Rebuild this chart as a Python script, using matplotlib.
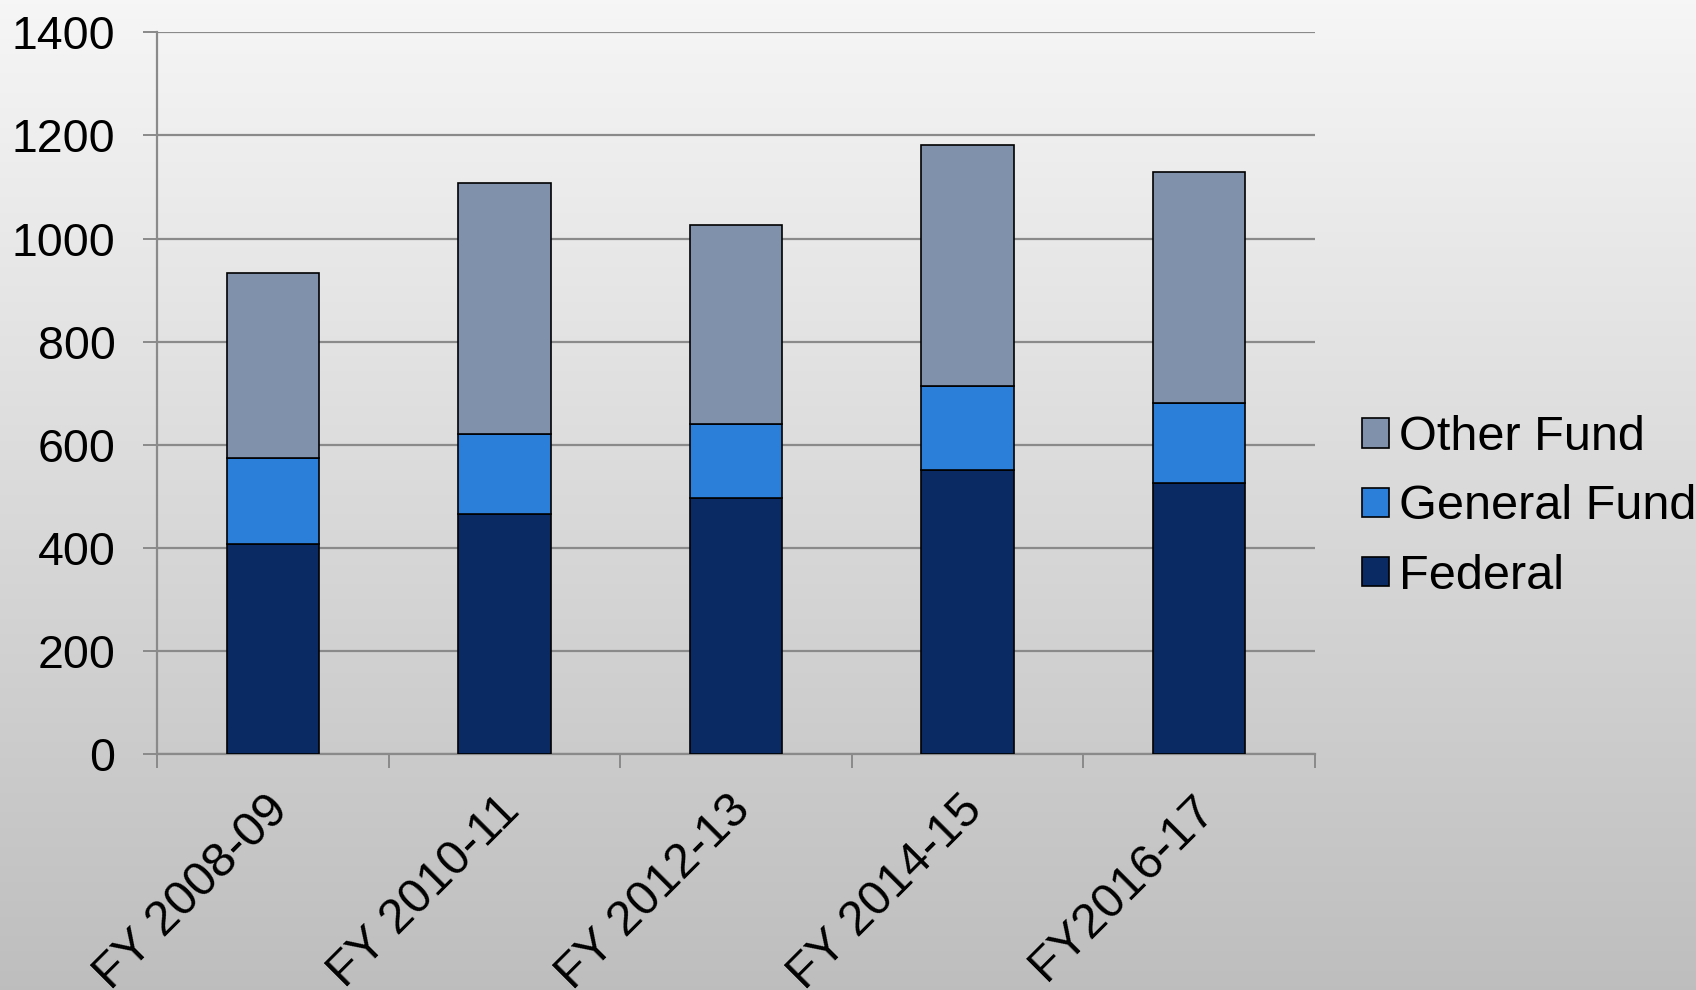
import matplotlib
matplotlib.use("Agg")
import matplotlib.pyplot as plt
import matplotlib.transforms as mtransforms
import numpy as np

categories = ["FY 2008-09", "FY 2010-11", "FY 2012-13", "FY 2014-15", "FY2016-17"]
federal = [408, 465, 497, 551, 526]
general_fund = [166, 155, 143, 163, 155]
other_fund = [359, 488, 387, 468, 448]
y_ticks = [0, 200, 400, 600, 800, 1000, 1200, 1400]

plt.rcParams['font.family'] = ['Liberation Sans', 'DejaVu Sans']

fig = plt.figure(figsize=(16.96, 9.9), dpi=100)

# gradient background
bg = fig.add_axes([0, 0, 1, 1], zorder=-10)
grad = np.linspace(0, 1, 256).reshape(-1, 1)
top_c = np.array([0.965, 0.965, 0.965])
bot_c = np.array([0.745, 0.745, 0.745])
img = top_c[None, None, :] * (1 - grad[:, :, None]) + bot_c[None, None, :] * grad[:, :, None]
bg.imshow(img, aspect='auto', extent=[0, 1, 0, 1], origin='upper')
bg.axis('off')

ax = fig.add_axes([0.0926, 0.2384, 0.6827, 0.7289])
ax.patch.set_alpha(0)

x = np.arange(len(categories))
w = 0.4
c_fed = '#092A62'
c_gen = '#2B7FD8'
c_oth = '#8091AB'
fed = np.array(federal)
gen = np.array(general_fund)
oth = np.array(other_fund)
b1 = ax.bar(x, fed, w, color=c_fed, edgecolor='black', linewidth=1.2, label='Federal', zorder=3)
b2 = ax.bar(x, gen, w, bottom=fed, color=c_gen, edgecolor='black', linewidth=1.2, label='General Fund', zorder=3)
b3 = ax.bar(x, oth, w, bottom=fed + gen, color=c_oth, edgecolor='black', linewidth=1.2, label='Other Fund', zorder=3)

ax.set_xlim(-0.5, len(categories) - 0.5)
ax.set_ylim(0, 1400)
ax.set_yticks(y_ticks)
ax.set_yticklabels([str(v) for v in y_ticks], fontsize=33.5)
ax.yaxis.grid(True, color='#8a8a8a', linewidth=1.6, zorder=0)
ax.set_axisbelow(True)

ax.set_xticks(np.arange(-0.5, len(categories), 1.0))
ax.set_xticklabels([])
ax.set_xticks(x, minor=True)
ax.set_xticklabels(categories, minor=True, rotation=45, ha='right', rotation_mode='anchor', fontsize=35)
ax.tick_params(axis='x', which='minor', length=0, pad=24)
ax.tick_params(axis='x', which='major', length=10, width=1.4, color='#8a8a8a', direction='out')
ax.tick_params(axis='y', length=10, width=1.4, color='#8a8a8a', direction='out', pad=20)

offset = mtransforms.ScaledTranslation(-8 / 100, 0, fig.dpi_scale_trans)
for lbl in ax.get_xticklabels(minor=True):
    lbl.set_transform(lbl.get_transform() + offset)

for s in ['top', 'right']:
    ax.spines[s].set_visible(False)
for s in ['left', 'bottom']:
    ax.spines[s].set_color('#8a8a8a')
    ax.spines[s].set_linewidth(1.6)

handles = [b3, b2, b1]
labels = ['Other Fund', 'General Fund', 'Federal']
fig.legend(handles, labels, loc='center left', bbox_to_anchor=(0.803, 0.488),
           frameon=False, fontsize=35, handlelength=0.55, handleheight=0.55,
           handletextpad=0.22, labelspacing=0.5, borderpad=0, borderaxespad=0)

fig.savefig('out.png', dpi=100)
